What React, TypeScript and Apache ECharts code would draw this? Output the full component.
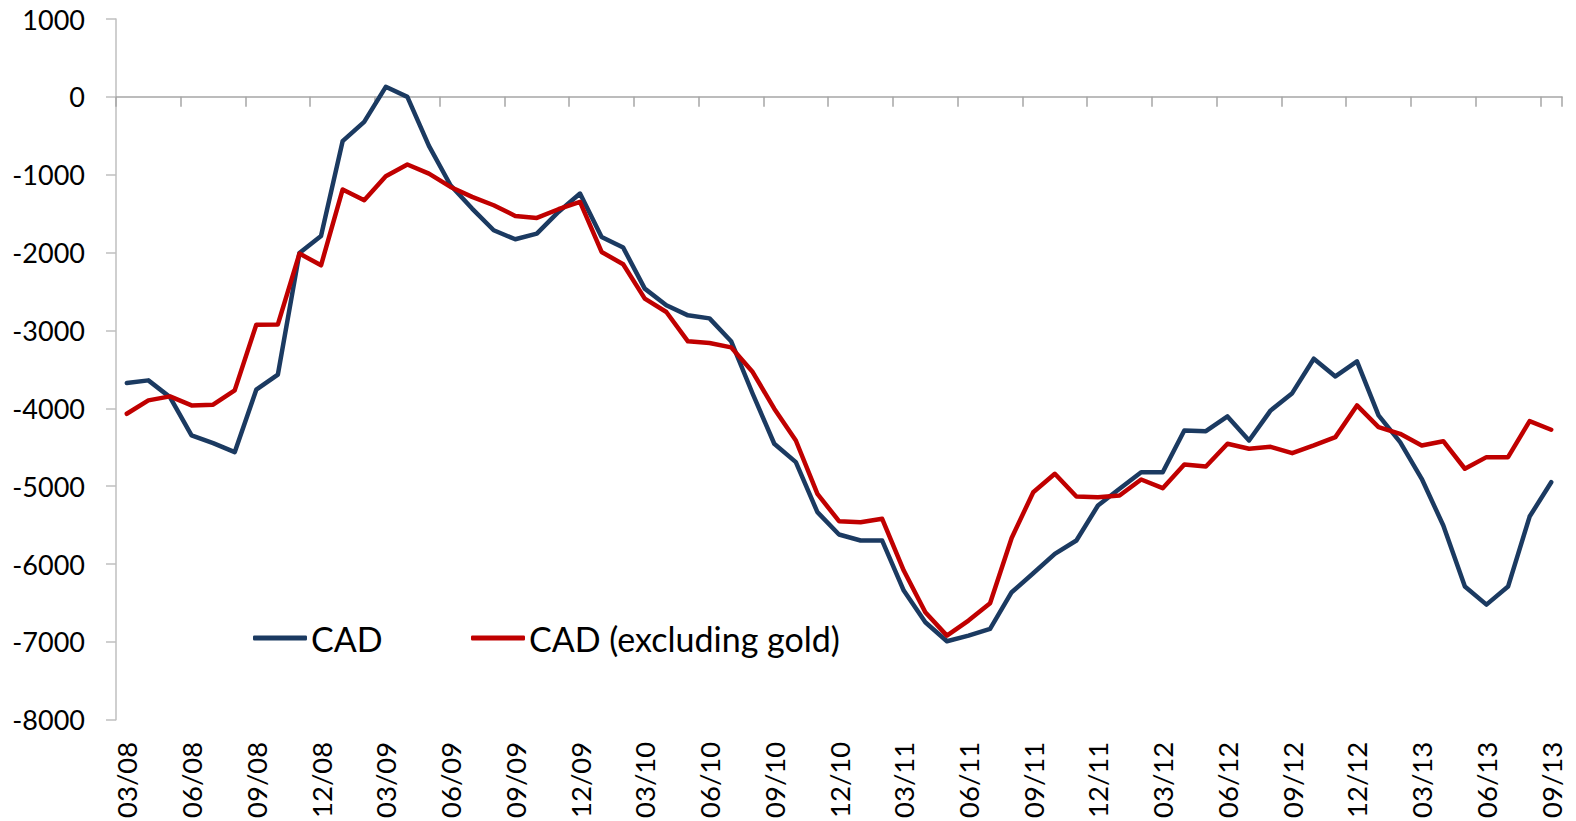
import React, { useEffect, useRef } from "react";
import * as echarts from "echarts";

const categories = [
  "03/08","04/08","05/08","06/08","07/08","08/08","09/08","10/08","11/08","12/08",
  "01/09","02/09","03/09","04/09","05/09","06/09","07/09","08/09","09/09","10/09","11/09","12/09",
  "01/10","02/10","03/10","04/10","05/10","06/10","07/10","08/10","09/10","10/10","11/10","12/10",
  "01/11","02/11","03/11","04/11","05/11","06/11","07/11","08/11","09/11","10/11","11/11","12/11",
  "01/12","02/12","03/12","04/12","05/12","06/12","07/12","08/12","09/12","10/12","11/12","12/12",
  "01/13","02/13","03/13","04/13","05/13","06/13","07/13","08/13","09/13",
];

const cad = [
  -3676, -3641, -3856, -4348, -4447, -4563, -3761, -3568, -2005, -1787, -569, -321, 129, 0,
  -630, -1135, -1435, -1713, -1829, -1756, -1478, -1242, -1799, -1936, -2463, -2677, -2806, -2845, -3138,
  -3813, -4455, -4691, -5334, -5621, -5698, -5698, -6341, -6748, -6992, -6919, -6833, -6362,
  -6118, -5869, -5698, -5248, -5033, -4820, -4820, -4284, -4293, -4104, -4413, -4027,
  -3805, -3363, -3590, -3397, -4091, -4434, -4905, -5505, -6289, -6521, -6289, -5390, -4949,
];

const cadExGold = [
  -4070, -3898, -3847, -3963, -3954, -3770, -2926, -2922, -2013, -2163, -1190, -1328, -1019, -869,
  -985, -1157, -1285, -1392, -1529, -1555, -1443, -1350, -1992, -2150, -2591, -2763, -3140, -3162, -3217,
  -3534, -4005, -4413, -5098, -5450, -5463, -5419, -6084, -6620, -6919, -6726, -6504, -5666,
  -5077, -4841, -5133, -5141, -5120, -4914, -5026, -4721, -4747, -4455, -4519, -4495,
  -4576, -4477, -4370, -3963, -4242, -4327, -4477, -4422, -4776, -4627, -4627, -4164, -4275,
];

const seriesNames = ["CAD", "CAD (excluding gold)"];
const colors = ["#1B3A61", "#C00000"];

const FONT = "Lato";

export default function App() {
  const ref = useRef<HTMLDivElement>(null);
  useEffect(() => {
    if (!ref.current) return;
    const chart = echarts.init(ref.current, undefined, { renderer: "svg" });
    const legendBase = {
      icon: "roundRect",
      itemWidth: 54,
      itemHeight: 5,
      padding: 0,
      top: 621,
      textStyle: { fontFamily: FONT, fontSize: 34, color: "#000", padding: [0, 0, 0, -1] },
    };
    chart.setOption({
      animation: false,
      backgroundColor: "#fff",
      grid: { left: 116, right: 14, top: 19, bottom: 101, containLabel: false },
      legend: [
        { ...legendBase, left: 253, data: [seriesNames[0]] },
        { ...legendBase, left: 471, data: [seriesNames[1]] },
      ],
      xAxis: [
        {
          type: "category",
          data: categories,
          boundaryGap: true,
          axisLine: { show: true, onZero: true, lineStyle: { color: "#A6A6A6", width: 1.5 } },
          axisTick: { show: true, interval: 2, length: 10, lineStyle: { color: "#A6A6A6", width: 1.5 } },
          axisLabel: { show: false },
          splitLine: { show: false },
        },
        {
          type: "category",
          data: categories,
          position: "bottom",
          boundaryGap: true,
          axisLine: { show: false, onZero: false },
          axisTick: { show: false },
          axisLabel: {
            show: true,
            interval: 2,
            rotate: 90,
            margin: 22,
            fontFamily: FONT,
            fontSize: 27.5,
            color: "#000",
          },
          splitLine: { show: false },
        },
      ],
      yAxis: {
        type: "value",
        min: -8000,
        max: 1000,
        interval: 1000,
        axisLine: { show: true, lineStyle: { color: "#BFBFBF", width: 1.5 } },
        axisTick: { show: true, length: 10, lineStyle: { color: "#BFBFBF", width: 1.5 } },
        axisLabel: {
          margin: 31,
          fontFamily: FONT,
          fontSize: 27,
          color: "#000",
          formatter: (v: number) => String(v),
        },
        splitLine: { show: false },
      },
      series: [
        {
          name: seriesNames[0],
          type: "line",
          xAxisIndex: 0,
          data: cad,
          symbol: "none",
          color: colors[0],
          lineStyle: { color: colors[0], width: 4.5, cap: "round", join: "round" },
          z: 3,
        },
        {
          name: seriesNames[1],
          type: "line",
          xAxisIndex: 0,
          data: cadExGold,
          symbol: "none",
          color: colors[1],
          lineStyle: { color: colors[1], width: 4.5, cap: "round", join: "round" },
          z: 4,
        },
      ],
    });
    return () => chart.dispose();
  }, []);
  return (
    <div
      ref={ref}
      style={{ position: "fixed", left: 0, top: 0, width: 1576, height: 821, background: "#fff" }}
    />
  );
}
